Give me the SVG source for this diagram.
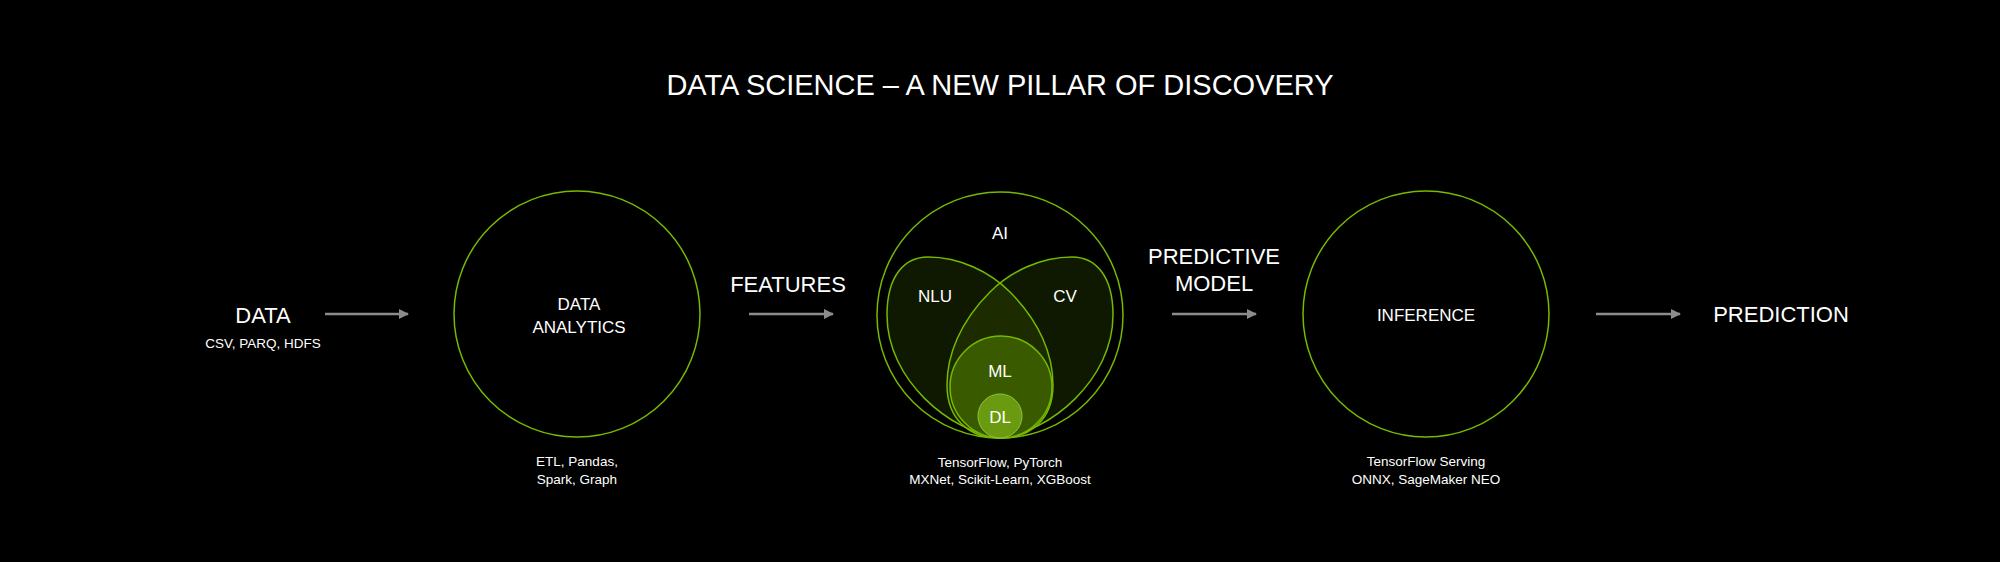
<svg xmlns="http://www.w3.org/2000/svg" width="2000" height="562" viewBox="0 0 2000 562">
<style>
text{font-family:"Liberation Sans","DejaVu Sans",sans-serif;fill:#fff;text-anchor:middle}
.l{font-size:22px}.s{font-size:13.5px}.t{font-size:29px}.m{font-size:17px}
.c{fill:none;stroke:#76b900;stroke-width:1.5}
.lobe{fill:#76b900;fill-opacity:0.13;stroke:#76b900;stroke-width:1.5}
.a{stroke:#8c8c8c;stroke-width:2.5;marker-end:url(#ah)}
</style>
<defs><marker id="ah" viewBox="0 0 10 10" refX="9" refY="5" markerWidth="4" markerHeight="4" orient="auto"><path d="M0,0L10,5L0,10z" fill="#8c8c8c"/></marker></defs>
<rect width="2000" height="562" fill="#000"/>
<text class="t" x="1000" y="95">DATA SCIENCE – A NEW PILLAR OF DISCOVERY</text>
<g id="connectors">
<line class="a" x1="325" y1="314" x2="408" y2="314"/>
<line class="a" x1="749" y1="314" x2="833" y2="314"/>
<line class="a" x1="1172" y1="314" x2="1256" y2="314"/>
<line class="a" x1="1596" y1="314" x2="1680" y2="314"/>
</g>
<g id="data"><text class="l" x="263" y="323">DATA</text><text class="s" x="263" y="348">CSV, PARQ, HDFS</text></g>
<g id="analytics"><circle class="c" cx="577" cy="314" r="123"/><text class="m" x="579" y="310">DATA</text><text class="m" x="579" y="333">ANALYTICS</text>
<text class="s" x="577" y="466">ETL, Pandas,</text><text class="s" x="577" y="484">Spark, Graph</text></g>
<g id="features"><text class="l" x="788" y="292">FEATURES</text></g>
<g id="ai">
<circle class="c" cx="1000" cy="315" r="123"/>
<path class="lobe" d="M1000,438 C950,432 887,380 887,315 C887,275 905,257 928,257 C960,257 990,272 1010,292 C1040,322 1053,355 1053,385 C1053,420 1030,438 1000,438 Z"/>
<path class="lobe" d="M1000,438 C1050,432 1113,380 1113,315 C1113,275 1095,257 1072,257 C1040,257 1010,272 990,292 C960,322 947,355 947,385 C947,420 970,438 1000,438 Z"/>
<circle cx="1001" cy="387" r="51" fill="#3a5a00" stroke="#76b900" stroke-width="1.5"/>
<circle cx="1000" cy="416" r="22" fill="#6a9a10" stroke="#8cc63f" stroke-width="1"/>
<text class="m" x="1000" y="239">AI</text><text class="m" x="935" y="302">NLU</text><text class="m" x="1065" y="302">CV</text>
<text class="m" x="1000" y="377">ML</text><text class="m" x="1000" y="423">DL</text>
<text class="s" x="1000" y="467">TensorFlow, PyTorch</text><text class="s" x="1000" y="484">MXNet, Scikit-Learn, XGBoost</text></g>
<g id="model"><text class="l" x="1214" y="264">PREDICTIVE</text><text class="l" x="1214" y="291">MODEL</text></g>
<g id="inference"><circle class="c" cx="1426" cy="314" r="123"/><text class="m" x="1426" y="321">INFERENCE</text>
<text class="s" x="1426" y="466">TensorFlow Serving</text><text class="s" x="1426" y="484">ONNX, SageMaker NEO</text></g>
<g id="prediction"><text class="l" x="1781" y="322">PREDICTION</text></g>
</svg>
